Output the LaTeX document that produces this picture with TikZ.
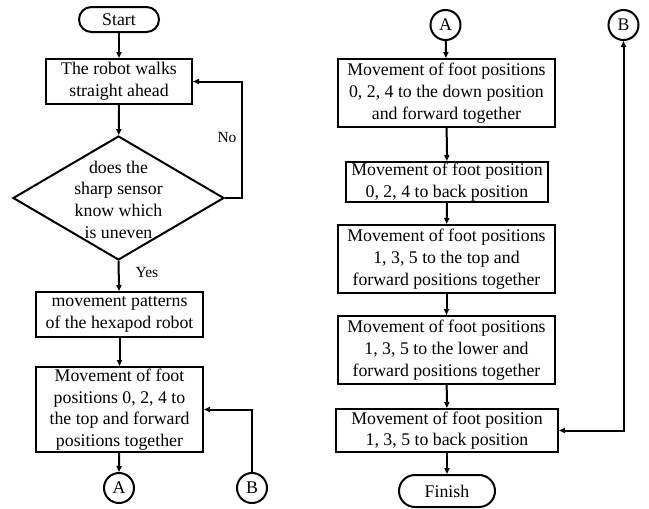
\documentclass[tikz,border=0pt]{standalone}
\usepackage{fontspec}
\setmainfont{Liberation Serif}
\usetikzlibrary{arrows.meta,shapes.geometric}
\begin{document}
\begin{tikzpicture}[x=1pt,y=-1pt,
  every node/.style={font=\fontsize{17.8}{21.7}\selectfont},
  box/.style={draw, line width=2pt, align=center, inner sep=0pt},
  term/.style={draw, line width=2pt, inner sep=0pt},
  conn/.style={draw, circle, line width=2pt, inner sep=0pt, minimum size=30pt},
  arr/.style={line width=2pt, -{Triangle[length=6pt,width=5pt]}},
  arrb/.style={line width=2pt, {Triangle[length=6pt,width=5pt]}-{Triangle[length=6pt,width=5pt]}},
  lbl/.style={font=\fontsize{15.5}{18}\selectfont, inner sep=0pt}
]
\useasboundingbox (0,0) rectangle (649,509);
% left column
\node[term, rounded corners=12.5pt, minimum width=80pt, minimum height=25pt] (start) at (119,19.5) {Start};
\node[box, minimum width=146pt, minimum height=45pt] (b1) at (119,81.5) {The robot walks\\straight ahead};
\node[draw, diamond, line width=2pt, minimum width=211pt, minimum height=124pt, inner sep=0pt] (dec) at (118.5,198) {};
\node[align=center, inner sep=0pt] (dect) at (118.5,199.5) {does the\\sharp sensor\\know which\\is uneven};
\node[box, minimum width=167pt, minimum height=45pt] (b3) at (119.5,314.5) {movement patterns\\of the hexapod robot};
\node[box, minimum width=167pt, minimum height=85pt] (b4) at (119.5,409.5) {Movement of foot\\positions 0, 2, 4 to\\the top and forward\\positions together};
\node[conn] (ca) at (119,488) {A};
\node[conn] (cb) at (252,488) {B};
\coordinate (nr) at (242,198);
\node[lbl] (no) at (227,137) {No};
\node[lbl] (yes) at (147,272) {Yes};

\draw[arr] (start) -- (b1);
\draw[arr] (b1) -- (dec);
\draw[arr] (dec.east) -- (nr) |- (b1.east);
\draw[arr] (dec.south) -- (b3);
\draw[arr] (b3) -- (b4);
\draw[arr] (b4) -- (ca);
\draw[arr] (cb.north) |- (b4.east);

% right column
\node[conn] (ra) at (445.5,25) {A};
\node[conn] (rb) at (623.5,25) {B};
\node[box, minimum width=217pt, minimum height=68pt] (r1) at (446.5,93) {Movement of foot positions\\0, 2, 4 to the down position\\and forward together};
\node[box, minimum width=202pt, minimum height=40pt] (r2) at (447,182) {Movement of foot position\\0, 2, 4 to back position};
\node[box, minimum width=217pt, minimum height=68pt] (r3) at (446.5,259) {Movement of foot positions\\1, 3, 5 to the top and\\forward positions together};
\node[box, minimum width=217pt, minimum height=68pt] (r4) at (446.5,350) {Movement of foot positions\\1, 3, 5 to the lower and\\forward positions together};
\node[box, minimum width=222pt, minimum height=43pt] (r5) at (447,430.5) {Movement of foot position\\1, 3, 5 to back position};
\node[term, rounded corners=16pt, minimum width=96pt, minimum height=32pt] (fin) at (447,491) {Finish};

\draw[arr] (ra) -- (r1);
\draw[arr] (r1) -- (r2);
\draw[arr] (r2) -- (r3);
\draw[arr] (r3) -- (r4);
\draw[arr] (r4) -- (r5);
\draw[arr] (r5) -- (fin);
\draw[arrb] (rb.south) |- (r5.east);
\end{tikzpicture}
\end{document}
